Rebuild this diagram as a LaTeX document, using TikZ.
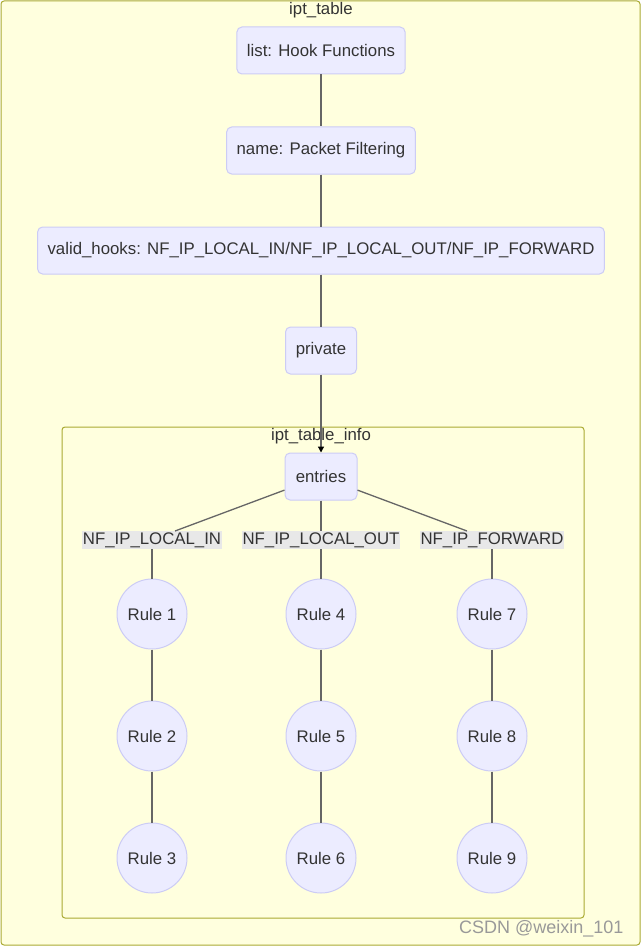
\documentclass[tikz,border=0pt]{standalone}
\usepackage{fontspec}
\setmainfont{Liberation Sans}
\usetikzlibrary{arrows.meta}
\definecolor{clusterfill}{HTML}{FFFFDE}
\definecolor{clusterline}{HTML}{AAAA33}
\definecolor{nodefill}{HTML}{ECECFF}
\definecolor{nodeline}{HTML}{CCCCF5}
\definecolor{txt}{HTML}{333333}
\definecolor{edge}{HTML}{666666}
\definecolor{lblbg}{HTML}{E8E8E8}
\begin{document}
\begin{tikzpicture}[x=1pt,y=-1pt,
  every node/.style={font=\fontsize{16.8}{20}\selectfont, text=txt},
  cluster/.style={draw=clusterline, fill=clusterfill, line width=1pt, rounded corners=3pt},
  boxnode/.style={draw=nodeline, fill=nodefill, line width=1pt, rounded corners=5pt, minimum height=47pt, inner xsep=10pt},
  rulenode/.style={circle, draw=nodeline, fill=nodefill, line width=1pt, minimum size=70pt, inner sep=0pt},
  elabel/.style={fill=lblbg, inner xsep=1pt, inner ysep=1pt, minimum height=18pt},
  conn/.style={draw=edge, line width=1.3pt},
  arr/.style={conn, -{Triangle[length=6pt,width=6pt,color=black]}}
]
\useasboundingbox (0,0) rectangle (642,947);
% clusters
\draw[cluster] (1,1) rectangle (640,945);
\node (t1) at (321,10.5) {ipt\_table};
\draw[cluster] (62,427) rectangle (584,918);
\node (t2) at (321,436.5) {ipt\_table\_info};
% nodes
\node[boxnode, minimum width=168pt] (list) at (321,50.5) {list: Hook Functions};
\node[boxnode, minimum width=188pt] (name) at (321,150.5) {name: Packet Filtering};
\node[boxnode, minimum width=566pt] (valid) at (321,250.5) {valid\_hooks: NF\_IP\_LOCAL\_IN/NF\_IP\_LOCAL\_OUT/NF\_IP\_FORWARD};
\node[boxnode, minimum width=71pt] (priv) at (321,350.5) {private};
\node[boxnode, minimum width=72pt] (entries) at (321,476.5) {entries};
% edge labels
\node[elabel] (l1) at (152,540) {NF\_IP\_LOCAL\_IN};
\node[elabel] (l2) at (321,540) {NF\_IP\_LOCAL\_OUT};
\node[elabel] (l3) at (492,540) {NF\_IP\_FORWARD};
\coordinate (l1t) at (175,531);
\coordinate (l3t) at (467,531);
% rules
\node[rulenode] (r1) at (152,614) {Rule 1};
\node[rulenode] (r2) at (152,736) {Rule 2};
\node[rulenode] (r3) at (152,858) {Rule 3};
\node[rulenode] (r4) at (321,614) {Rule 4};
\node[rulenode] (r5) at (321,736) {Rule 5};
\node[rulenode] (r6) at (321,858) {Rule 6};
\node[rulenode] (r7) at (492,614) {Rule 7};
\node[rulenode] (r8) at (492,736) {Rule 8};
\node[rulenode] (r9) at (492,858) {Rule 9};
% connectors
\draw[conn] (list) -- (name);
\draw[conn] (name) -- (valid);
\draw[conn] (valid) -- (priv);
\draw[arr] (priv) -- (entries);
\draw[conn] (entries) -- (l1t);
\draw[conn] (entries) -- (l2);
\draw[conn] (entries) -- (l3t);
\draw[conn] (l1) -- (r1);
\draw[conn] (l2) -- (r4);
\draw[conn] (l3) -- (r7);
\draw[conn] (r1) -- (r2);
\draw[conn] (r2) -- (r3);
\draw[conn] (r4) -- (r5);
\draw[conn] (r5) -- (r6);
\draw[conn] (r7) -- (r8);
\draw[conn] (r8) -- (r9);
% watermark
\node[text=gray!80, anchor=east, font=\fontsize{18}{22}\selectfont] (wm) at (627,929) {CSDN @weixin\_101};
\end{tikzpicture}
\end{document}
